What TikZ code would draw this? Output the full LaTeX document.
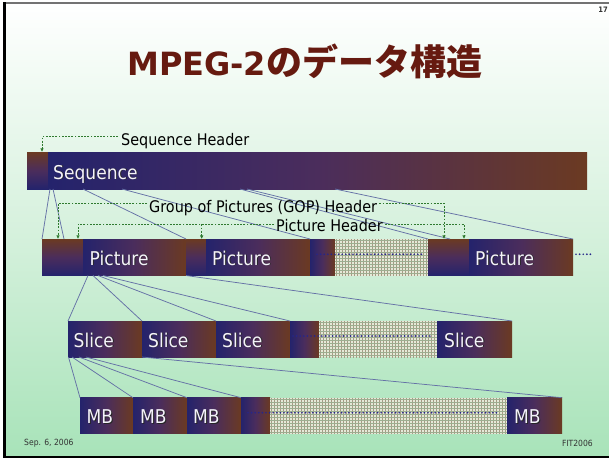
\documentclass[tikz,border=0pt]{standalone}
\usepackage{fontspec}
\setmainfont[FakeStretch=0.9]{DejaVu Sans}
\newfontfamily\titlelat{DejaVu Sans}
\newfontfamily\titlecjk{Noto Sans CJK JP}
\usetikzlibrary{arrows.meta,calc}

\definecolor{navy}{HTML}{24236C}
\definecolor{brownr}{HTML}{6B3A22}
\definecolor{purp}{HTML}{4B2D5C}
\definecolor{fanline}{HTML}{6571A6}
\definecolor{hdrgreen}{HTML}{2F7A2F}
\definecolor{dotblue}{HTML}{26268A}
\definecolor{titlered}{HTML}{661A10}
\definecolor{hatchbg}{HTML}{E4EAD8}
\definecolor{hatchv}{HTML}{A89A84}
\definecolor{hatchh}{HTML}{9CAE90}
\definecolor{bgmid}{HTML}{D6F1DD}
\definecolor{bgbot}{HTML}{A8E3B9}
\definecolor{lblwhite}{HTML}{F4F2FA}

% white label with a dark drop shadow, placed by its base line
\newcommand\barlabel[4]{%
  \node[barshadow, anchor=base west] (#1s) at ($(#2,#3)+(0.9,0.9)$) {#4};
  \node[barlbl, anchor=base west] (#1) at (#2,#3) {#4};}

% fine grid filling a rectangular node
\newcommand\gridfill[1]{%
  \fill[hatchbg] (#1.north west) rectangle (#1.south east);
  \begin{scope}
    \clip (#1.north west) rectangle (#1.south east);
    \foreach \k in {0,3,...,240} {
      \draw[hatchv, line width=0.45pt] ($(#1.north west)+(\k+1,0)$) -- ++(0,40);}
    \foreach \k in {0,3,...,39} {
      \draw[hatchh, line width=0.45pt] ($(#1.north west)+(0,\k+1.5)$) -- ++(245,0);}
  \end{scope}}

\tikzset{
  seg/.style={draw=none, inner sep=0pt, outer sep=0pt, anchor=north west},
  item/.style={seg, left color=navy, right color=brownr, middle color=purp},
  hdrblk/.style={seg, top color=brownr, bottom color=navy, middle color=purp},
  blank/.style={seg},
  barlbl/.style={inner sep=0pt, text=lblwhite, font=\fontsize{19}{19}\selectfont},
  barshadow/.style={inner sep=0pt, text=black!85, font=\fontsize{19}{19}\selectfont},
  hdrlbl/.style={inner sep=0pt, text=black, font=\fontsize{16}{16}\selectfont},
  foot/.style={inner sep=0pt, text=black!80, font=\fontsize{8.5}{8.5}\selectfont},
  fan/.style={draw=fanline, line width=0.75pt},
  hdr/.style={draw=hdrgreen, line width=0.7pt, dash pattern=on 1.8pt off 1.4pt,
    -{Latex[length=3.6pt,width=3.6pt]}},
  dots/.style={draw=dotblue, line width=1.9pt, line cap=round, dash pattern=on 0pt off 3.6pt},
}

\begin{document}
\begin{tikzpicture}[x=1pt, y=-1pt]
\useasboundingbox (0,0) rectangle (609,459);
\fill[white] (0,0) rectangle (609,459);
\shade[top color=white, bottom color=bgbot, middle color=bgmid] (3,3) rectangle (609,457);

% slide frame
\draw[line width=2pt, black!55] (3,2.8) -- (609,2.8);
\draw[line width=3.6pt, black] (4.6,2) -- (4.6,458);
\draw[line width=2.4pt, black] (3,456.9) -- (609,456.9);

% title
\node[anchor=base west, inner sep=0pt, text=titlered] (title) at (127,75)
  {{\titlelat\bfseries\fontsize{32}{32}\selectfont MPEG-2}{\titlecjk\bfseries\fontsize{36}{36}\selectfont のデータ構造}};

% ---- sequence row
\node[hdrblk, minimum width=21pt, minimum height=37pt] (seqhdr) at (27,152) {};
\node[item, minimum width=539pt, minimum height=37pt] (seq) at (48,152) {};
\barlabel{tSeq}{53}{179}{Sequence}

% ---- picture row
\node[hdrblk, minimum width=22pt, minimum height=36.5pt] (gh1) at (42,239) {};
\node[hdrblk, minimum width=19pt, minimum height=36.5pt] (ph1) at (64,239) {};
\node[item, minimum width=103pt, minimum height=36.5pt] (pic1) at (83,239) {};
\node[hdrblk, minimum width=20pt, minimum height=36.5pt] (ph2) at (186,239) {};
\node[item, minimum width=104pt, minimum height=36.5pt] (pic2) at (206,239) {};
\node[item, minimum width=25pt, minimum height=36.5pt] (pgrad) at (310,239) {};
\node[blank, minimum width=93pt, minimum height=36.5pt] (phatch) at (335,239) {};
\gridfill{phatch}
\node[hdrblk, minimum width=22pt, minimum height=36.5pt] (gh2) at (428,239) {};
\node[hdrblk, minimum width=19pt, minimum height=36.5pt] (ph3) at (450,239) {};
\node[item, minimum width=104pt, minimum height=36.5pt] (pic3) at (469,239) {};
\barlabel{tPic1}{89.5}{265}{Picture}
\barlabel{tPic2}{212}{265}{Picture}
\barlabel{tPic3}{475}{265}{Picture}

% ---- slice row
\node[item, minimum width=74pt, minimum height=36pt] (sl1) at (68,321) {};
\node[item, minimum width=74pt, minimum height=36pt] (sl2) at (142,321) {};
\node[item, minimum width=74pt, minimum height=36pt] (sl3) at (216,321) {};
\node[item, minimum width=29pt, minimum height=36pt] (sgrad) at (290,321) {};
\node[blank, minimum width=118pt, minimum height=36pt] (shatch) at (319,321) {};
\gridfill{shatch}
\node[item, minimum width=75pt, minimum height=36pt] (sl4) at (437,321) {};
\barlabel{tSl1}{73.5}{347}{Slice}
\barlabel{tSl2}{148}{347}{Slice}
\barlabel{tSl3}{222}{347}{Slice}
\barlabel{tSl4}{444}{347}{Slice}

% ---- macroblock row
\node[item, minimum width=53pt, minimum height=36pt] (mb1) at (80,397.7) {};
\node[item, minimum width=54pt, minimum height=36pt] (mb2) at (133,397.7) {};
\node[item, minimum width=54pt, minimum height=36pt] (mb3) at (187,397.7) {};
\node[item, minimum width=29pt, minimum height=36pt] (mgrad) at (241,397.7) {};
\node[blank, minimum width=237pt, minimum height=36pt] (mhatch) at (270,397.7) {};
\gridfill{mhatch}
\node[item, minimum width=55pt, minimum height=36pt] (mb4) at (507,397.7) {};
\barlabel{tMb1}{86.5}{423.5}{MB}
\barlabel{tMb2}{140}{423.5}{MB}
\barlabel{tMb3}{193}{423.5}{MB}
\barlabel{tMb4}{514}{423.5}{MB}

% continuation dots
\draw[dots] ($(pgrad.west)+(7,-3)$) -- ($(phatch.east)+(-6,-3)$);
\draw[dots] ($(pic3.east)+(3,-3)$) -- ($(pic3.east)+(21,-3)$);
\draw[dots] ($(sgrad.west)+(3,-3)$) -- ($(shatch.east)+(-4,-3)$);
\draw[dots] ($(mgrad.west)+(7,-3)$) -- ($(mhatch.east)+(-8,-3)$);

% ---- fan-out lines: sequence -> pictures
\coordinate (sq1) at ($(seq.south west)+(2,0)$);
\coordinate (sq2) at ($(seq.south west)+(5,0)$);
\coordinate (sq3) at ($(seq.south west)+(35,0)$);
\coordinate (sq4) at ($(seq.south west)+(74,0)$);
\coordinate (sq5) at ($(seq.south west)+(192,0)$);
\coordinate (sq6) at ($(seq.south west)+(199,0)$);
\coordinate (sq7) at ($(seq.south west)+(287,0)$);
\draw[fan] (sq1) -- (gh1.north west);
\draw[fan] (sq2) -- (gh1.north east);
\draw[fan] (sq3) -- (ph2.north west);
\draw[fan] (sq4) -- (pic2.north east);
\draw[fan] (sq5) -- (gh2.north west);
\draw[fan] (sq6) -- (gh2.north east);
\draw[fan] (sq7) -- (pic3.north east);

% pictures -> slices
\coordinate (pc1) at ($(pic1.south west)+(5,0)$);
\coordinate (pc2) at ($(pic1.south west)+(10,0)$);
\coordinate (pc3) at ($(pic1.south west)+(15,0)$);
\coordinate (pc4) at ($(pic1.south west)+(20,0)$);
\draw[fan] (pc1) -- (sl1.north west);
\draw[fan] (pc2) -- (sl2.north west);
\draw[fan] (pc3) -- (sl3.north west);
\draw[fan] (pc4) -- (sgrad.north west);
\draw[fan] (pic1.south east) -- (sl4.north east);

% slices -> macroblocks
\coordinate (sc1) at ($(sl1.south west)+(0.5,0)$);
\coordinate (sc2) at ($(sl1.south west)+(4,0)$);
\coordinate (sc3) at ($(sl1.south west)+(11,0)$);
\coordinate (sc4) at ($(sl1.south west)+(18,0)$);
\draw[fan] (sc1) -- (mb1.north west);
\draw[fan] (sc2) -- (mb2.north west);
\draw[fan] (sc3) -- (mb3.north west);
\draw[fan] (sc4) -- (mgrad.north west);
\draw[fan] (sl1.south east) -- (mb4.north east);

% ---- header labels and their pointers
\node[hdrlbl, anchor=base west] (lblSeqHdr) at (121,145.5) {Sequence Header};
\node[hdrlbl, anchor=base west] (lblGop) at (149,212) {Group of Pictures (GOP) Header};
\node[hdrlbl, anchor=base west] (lblPh) at (276,231.5) {Picture Header};

\draw[hdr] ($(lblSeqHdr.base west)+(-3,-8.8)$) -| ($(seqhdr.north west)+(15,0)$);
\draw[hdr] ($(lblGop.base west)+(-2,-8.7)$) -| ($(gh1.north west)+(16,0)$);
\draw[hdr] ($(lblGop.base east)+(2,-8.7)$) -| ($(gh2.north west)+(16,0)$);
\draw[hdr] ($(lblPh.base west)+(-2,-7.2)$) -| ($(ph1.north west)+(14,0)$);
\coordinate (phbr) at ($(ph2.north west)+(15.7,-14.7)$);
\draw[hdr] (phbr) -- (phbr |- ph2.north);
\draw[hdr] ($(lblPh.base east)+(2,-7.2)$) -| ($(ph3.north west)+(14,0)$);

% ---- footer
\node[foot, anchor=west] (date) at (24,443) {Sep. 6, 2006};
\node[foot, anchor=east] (conf) at (593,443) {FIT2006};
\node[foot, font=\bfseries\fontsize{7.5}{7.5}\selectfont] (pgno) at (603,9.8) {17};
\end{tikzpicture}
\end{document}
